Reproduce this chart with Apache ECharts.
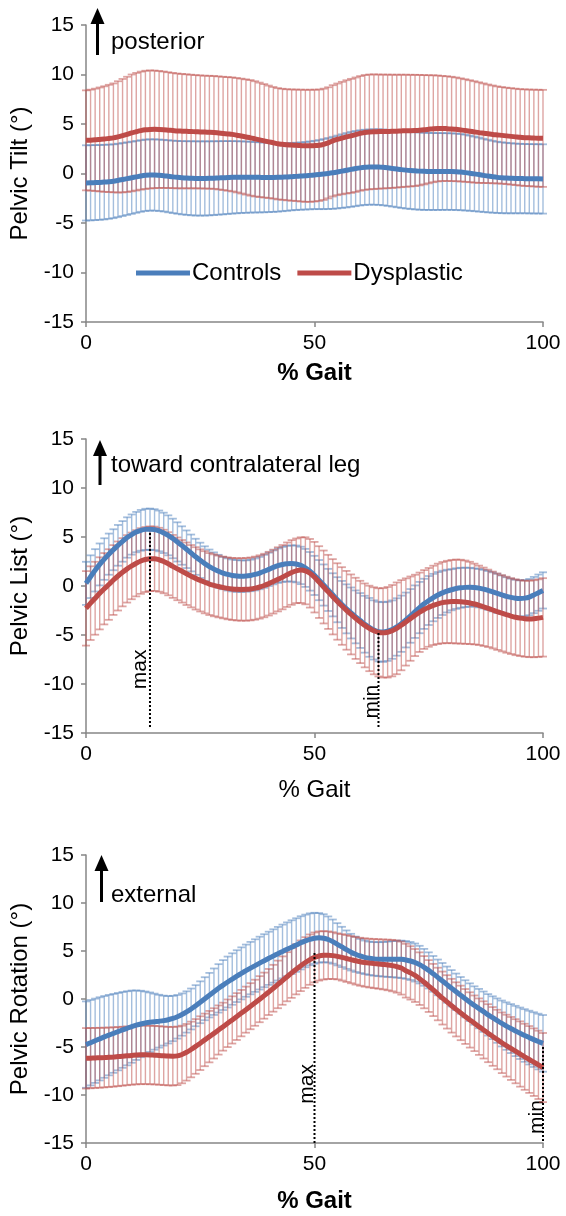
<!DOCTYPE html>
<html>
<head>
<meta charset="utf-8">
<script src="https://cdn.jsdelivr.net/npm/echarts@6/dist/echarts.min.js"></script>
<style>html,body{margin:0;padding:0;background:#fff;}#c{width:566px;height:1216px;}</style>
</head>
<body>
<div id="c"></div>
<script>
// % gait cycle (0..100 in 1% steps)
const gaitPct = Array.from({length: 101}, (_, i) => i);
const xTicks = [0, 50, 100];
const yTicks = [-15, -10, -5, 0, 5, 10, 15];

// ---- Pelvic Tilt ----
const tiltCtrlMean = [-0.95,-0.94,-0.92,-0.90,-0.87,-0.83,-0.78,-0.70,-0.61,-0.52,
-0.43,-0.34,-0.25,-0.18,-0.15,-0.15,-0.18,-0.22,-0.28,-0.34,
-0.39,-0.43,-0.46,-0.48,-0.50,-0.50,-0.50,-0.49,-0.47,-0.45,
-0.43,-0.41,-0.39,-0.38,-0.37,-0.37,-0.37,-0.38,-0.39,-0.40,
-0.40,-0.40,-0.39,-0.37,-0.35,-0.32,-0.29,-0.26,-0.23,-0.19,
-0.15,-0.11,-0.06,0.00,0.07,0.15,0.24,0.33,0.42,0.50,
0.57,0.62,0.65,0.66,0.65,0.62,0.57,0.51,0.45,0.39,
0.34,0.30,0.27,0.24,0.22,0.21,0.20,0.20,0.20,0.20,
0.19,0.17,0.14,0.09,0.03,-0.04,-0.11,-0.19,-0.26,-0.33,
-0.39,-0.43,-0.46,-0.48,-0.50,-0.51,-0.52,-0.53,-0.54,-0.54,-0.55];
const tiltCtrlSD = [3.80,3.80,3.79,3.78,3.77,3.75,3.73,3.71,3.69,3.67,
3.65,3.63,3.62,3.61,3.60,3.60,3.61,3.62,3.64,3.66,
3.68,3.70,3.72,3.74,3.75,3.75,3.75,3.74,3.73,3.71,
3.70,3.68,3.66,3.64,3.62,3.60,3.58,3.56,3.54,3.52,
3.50,3.48,3.46,3.44,3.42,3.40,3.40,3.40,3.41,3.43,
3.45,3.49,3.54,3.59,3.64,3.68,3.72,3.76,3.79,3.80,
3.80,3.80,3.80,3.81,3.82,3.83,3.84,3.85,3.86,3.87,
3.88,3.89,3.90,3.90,3.90,3.89,3.89,3.88,3.88,3.87,
3.87,3.86,3.85,3.83,3.80,3.77,3.74,3.70,3.67,3.63,
3.60,3.58,3.56,3.54,3.52,3.51,3.50,3.50,3.50,3.50,3.50];
const tiltDysMean = [3.35,3.37,3.40,3.44,3.48,3.54,3.60,3.70,3.82,3.95,
4.10,4.22,4.33,4.41,4.45,4.46,4.45,4.42,4.38,4.34,
4.30,4.28,4.26,4.24,4.22,4.20,4.18,4.17,4.15,4.10,
4.05,4.00,3.95,3.87,3.78,3.69,3.60,3.50,3.40,3.30,
3.20,3.10,3.00,2.95,2.90,2.87,2.85,2.82,2.80,2.80,
2.82,2.85,2.95,3.10,3.30,3.45,3.58,3.70,3.80,3.92,
4.05,4.15,4.20,4.22,4.23,4.24,4.25,4.26,4.28,4.30,
4.32,4.33,4.35,4.38,4.42,4.47,4.52,4.55,4.55,4.53,
4.50,4.46,4.40,4.34,4.27,4.20,4.13,4.07,4.01,3.95,
3.90,3.85,3.80,3.75,3.70,3.65,3.62,3.60,3.58,3.56,3.55];
const tiltDysSD = [5.05,5.10,5.17,5.25,5.33,5.42,5.50,5.62,5.73,5.82,
5.90,5.94,5.96,5.97,5.96,5.94,5.91,5.88,5.85,5.82,
5.80,5.78,5.76,5.74,5.72,5.71,5.70,5.70,5.70,5.71,
5.72,5.74,5.76,5.78,5.80,5.82,5.84,5.82,5.78,5.73,
5.68,5.64,5.62,5.61,5.61,5.62,5.63,5.65,5.66,5.66,
5.65,5.63,5.62,5.61,5.62,5.64,5.68,5.72,5.76,5.78,
5.79,5.80,5.80,5.79,5.77,5.75,5.74,5.72,5.70,5.68,
5.66,5.64,5.62,5.58,5.52,5.46,5.40,5.35,5.31,5.29,
5.27,5.24,5.21,5.18,5.15,5.12,5.08,5.03,4.98,4.94,
4.90,4.88,4.87,4.87,4.87,4.87,4.88,4.88,4.89,4.90,4.90];

// ---- Pelvic List ----
const listCtrlMean = [0.27,0.95,1.60,2.20,2.75,3.25,3.70,4.15,4.55,4.95,
5.25,5.50,5.68,5.78,5.80,5.75,5.62,5.42,5.17,4.85,
4.50,4.13,3.75,3.37,2.98,2.62,2.28,1.98,1.72,1.50,
1.32,1.18,1.08,1.02,1.00,1.02,1.08,1.18,1.32,1.50,
1.70,1.90,2.07,2.20,2.28,2.30,2.25,2.10,1.85,1.50,
1.08,0.60,0.10,-0.40,-0.90,-1.40,-1.88,-2.33,-2.75,-3.15,
-3.52,-3.90,-4.22,-4.48,-4.65,-4.70,-4.62,-4.45,-4.18,-3.85,
-3.47,-3.05,-2.62,-2.20,-1.82,-1.48,-1.18,-0.92,-0.70,-0.52,
-0.38,-0.26,-0.18,-0.14,-0.12,-0.15,-0.22,-0.32,-0.45,-0.60,
-0.75,-0.90,-1.05,-1.16,-1.24,-1.27,-1.24,-1.13,-0.92,-0.68,-0.45];
const listCtrlSD = [2.20,2.18,2.16,2.14,2.12,2.10,2.09,2.08,2.07,2.06,
2.05,2.06,2.08,2.10,2.10,2.09,2.08,2.06,2.04,2.02,
2.00,1.96,1.92,1.88,1.84,1.80,1.77,1.74,1.71,1.68,
1.65,1.64,1.63,1.62,1.61,1.60,1.61,1.63,1.65,1.68,
1.70,1.73,1.76,1.79,1.82,1.85,1.88,1.91,1.94,1.97,
2.00,2.05,2.10,2.15,2.20,2.30,2.40,2.50,2.60,2.70,
2.80,2.90,3.00,3.02,3.04,3.05,3.02,2.98,2.93,2.87,
2.80,2.74,2.68,2.62,2.56,2.50,2.42,2.34,2.26,2.18,
2.10,2.07,2.04,2.01,1.98,1.95,1.96,1.97,1.98,1.99,
2.00,1.97,1.94,1.91,1.88,1.85,1.85,1.85,1.85,1.85,1.85];
const listDysMean = [-2.28,-1.75,-1.25,-0.75,-0.28,0.15,0.61,1.02,1.40,1.75,
2.05,2.32,2.55,2.70,2.78,2.78,2.68,2.50,2.27,2.00,
1.75,1.50,1.25,1.00,0.78,0.57,0.38,0.20,0.07,-0.05,
-0.15,-0.24,-0.30,-0.34,-0.35,-0.34,-0.30,-0.22,-0.10,0.05,
0.24,0.45,0.68,0.90,1.15,1.38,1.55,1.62,1.55,1.30,
0.90,0.40,-0.10,-0.60,-1.10,-1.58,-2.04,-2.48,-2.90,-3.30,
-3.67,-4.02,-4.33,-4.57,-4.73,-4.78,-4.72,-4.56,-4.32,-4.00,
-3.67,-3.33,-3.00,-2.68,-2.40,-2.18,-1.98,-1.82,-1.70,-1.63,
-1.59,-1.58,-1.60,-1.65,-1.73,-1.84,-1.97,-2.12,-2.28,-2.45,
-2.62,-2.78,-2.93,-3.07,-3.19,-3.28,-3.34,-3.36,-3.34,-3.28,-3.20];
const listDysSD = [3.80,3.76,3.72,3.68,3.64,3.60,3.56,3.52,3.48,3.44,
3.40,3.38,3.35,3.32,3.30,3.28,3.26,3.24,3.22,3.21,
3.20,3.19,3.19,3.18,3.18,3.17,3.17,3.16,3.16,3.15,
3.15,3.16,3.17,3.18,3.19,3.20,3.21,3.22,3.23,3.24,
3.25,3.26,3.27,3.28,3.29,3.30,3.30,3.35,3.42,3.50,
3.60,3.66,3.72,3.78,3.84,3.90,3.96,4.02,4.08,4.14,
4.20,4.28,4.36,4.44,4.50,4.56,4.62,4.66,4.68,4.60,
4.45,4.30,4.15,4.05,4.02,4.02,4.05,4.10,4.15,4.20,
4.25,4.28,4.28,4.25,4.20,4.12,4.05,4.00,3.95,3.92,
3.90,3.89,3.88,3.87,3.87,3.87,3.88,3.90,3.93,3.96,4.00];

// ---- Pelvic Rotation ----
const rotCtrlMean = [-4.75,-4.55,-4.35,-4.15,-3.95,-3.76,-3.58,-3.40,-3.22,-3.05,
-2.88,-2.73,-2.60,-2.50,-2.42,-2.36,-2.31,-2.25,-2.16,-2.03,
-1.85,-1.62,-1.35,-1.04,-0.70,-0.34,0.03,0.40,0.76,1.11,
1.45,1.77,2.08,2.38,2.67,2.95,3.22,3.48,3.74,3.99,
4.24,4.48,4.72,4.95,5.18,5.40,5.62,5.85,6.05,6.22,
6.33,6.37,6.33,6.20,5.98,5.70,5.42,5.14,4.88,4.66,
4.48,4.34,4.24,4.18,4.15,4.14,4.14,4.15,4.15,4.13,
4.07,3.96,3.80,3.58,3.30,2.98,2.62,2.25,1.88,1.50,
1.12,0.75,0.38,0.02,-0.33,-0.68,-1.00,-1.32,-1.65,-1.95,
-2.25,-2.55,-2.82,-3.08,-3.33,-3.57,-3.80,-4.02,-4.23,-4.43,-4.62];
const rotCtrlSD = [4.50,4.45,4.39,4.33,4.26,4.19,4.11,4.03,3.95,3.86,
3.76,3.62,3.46,3.28,3.10,2.92,2.75,2.60,2.47,2.36,
2.27,2.20,2.15,2.13,2.14,2.18,2.24,2.32,2.42,2.52,
2.60,2.65,2.68,2.70,2.71,2.72,2.73,2.74,2.75,2.76,
2.77,2.78,2.79,2.80,2.80,2.80,2.79,2.77,2.74,2.70,
2.65,2.58,2.50,2.40,2.30,2.20,2.10,2.00,1.91,1.84,
1.78,1.75,1.74,1.75,1.77,1.80,1.84,1.88,1.92,1.95,
1.97,1.98,1.98,1.96,1.92,1.88,1.86,1.86,1.87,1.88,
1.89,1.90,1.91,1.93,1.96,2.00,2.05,2.10,2.16,2.23,
2.31,2.39,2.47,2.55,2.62,2.68,2.74,2.80,2.85,2.90,2.95];
const rotDysMean = [-6.18,-6.16,-6.14,-6.12,-6.10,-6.07,-6.04,-6.00,-5.96,-5.92,
-5.88,-5.84,-5.82,-5.82,-5.83,-5.85,-5.88,-5.92,-5.95,-5.96,
-5.92,-5.78,-5.55,-5.26,-4.94,-4.60,-4.26,-3.92,-3.58,-3.23,
-2.88,-2.53,-2.18,-1.83,-1.47,-1.11,-0.75,-0.39,-0.02,0.35,
0.73,1.12,1.52,1.92,2.32,2.72,3.10,3.46,3.80,4.10,
4.33,4.48,4.55,4.56,4.52,4.44,4.34,4.22,4.10,3.98,
3.88,3.80,3.74,3.69,3.65,3.60,3.55,3.48,3.38,3.22,
2.95,2.72,2.45,2.12,1.75,1.35,0.94,0.52,0.10,-0.30,
-0.70,-1.08,-1.45,-1.82,-2.18,-2.53,-2.88,-3.22,-3.56,-3.90,
-4.22,-4.56,-4.86,-5.15,-5.44,-5.73,-6.02,-6.30,-6.58,-6.86,-7.14];
const rotDysSD = [3.15,3.14,3.13,3.12,3.11,3.10,3.09,3.08,3.07,3.06,
3.05,3.05,3.05,3.05,3.05,3.05,3.05,3.05,3.05,3.05,
3.05,3.00,2.95,2.90,2.85,2.80,2.74,2.68,2.62,2.56,
2.50,2.48,2.46,2.44,2.42,2.40,2.40,2.40,2.40,2.40,
2.40,2.44,2.48,2.52,2.56,2.60,2.62,2.64,2.64,2.62,
2.60,2.56,2.52,2.48,2.44,2.40,2.42,2.44,2.46,2.48,
2.50,2.52,2.54,2.56,2.58,2.60,2.64,2.68,2.72,2.76,
2.80,2.78,2.76,2.74,2.72,2.70,2.72,2.74,2.76,2.78,
2.80,2.82,2.84,2.86,2.88,2.90,2.94,2.98,3.02,3.06,
3.10,3.16,3.22,3.28,3.34,3.40,3.44,3.48,3.52,3.56,3.60];

// max / min marker lines: [x, top, bottom] and label [x, y]
const listMarkers = [{name: 'max', line: [14, 5.4, -14.4], label: [11.8, -8.5]},
                     {name: 'min', line: [64, -4.8, -14.4], label: [62.7, -11.8]}];
const rotMarkers = [{name: 'max', line: [50, 4.8, -15], label: [48.4, -8.85]},
                    {name: 'min', line: [100, -5.0, -15], label: [98.8, -12.3]}];

const panels = [
  {yName: 'Pelvic Tilt (°)', xBold: true, ctrl: [tiltCtrlMean, tiltCtrlSD], dys: [tiltDysMean, tiltDysSD], markers: [], top: 25, height: 297, xNameGap: 39},
  {yName: 'Pelvic List (°)', xBold: false, ctrl: [listCtrlMean, listCtrlSD], dys: [listDysMean, listDysSD], markers: listMarkers, top: 439, height: 294, xNameGap: 45},
  {yName: 'Pelvic Rotation (°)', xBold: true, ctrl: [rotCtrlMean, rotCtrlSD], dys: [rotDysMean, rotDysSD], markers: rotMarkers, top: 855, height: 288, xNameGap: 46}
];

const BLUE = '#4A7EBB', RED = '#BE4B48';
const BLUE_EB = 'rgba(74,126,187,0.5)', RED_EB = 'rgba(190,75,72,0.5)';
const FONT = '"Liberation Sans", Arial, sans-serif';

function errRender(color) {
  return function (params, api) {
    const x = api.value(0), lo = api.value(1), hi = api.value(2);
    const a = api.coord([x, hi]), b = api.coord([x, lo]);
    const cap = 4;
    return {type: 'group', children: [
      {type: 'line', shape: {x1: a[0], y1: a[1], x2: b[0], y2: b[1]}, style: {stroke: color, lineWidth: 1.4}},
      {type: 'line', shape: {x1: a[0] - cap, y1: a[1], x2: a[0] + cap, y2: a[1]}, style: {stroke: color, lineWidth: 1.8}},
      {type: 'line', shape: {x1: b[0] - cap, y1: b[1], x2: b[0] + cap, y2: b[1]}, style: {stroke: color, lineWidth: 1.8}}
    ]};
  };
}

const grids = [], xAxes = [], yAxes = [], series = [];
panels.forEach((p, k) => {
  grids.push({left: 86, right: 23, top: p.top, height: p.height});
  xAxes.push({
    type: 'value', gridIndex: k, min: xTicks[0], max: xTicks[xTicks.length - 1], interval: 50,
    name: '% Gait', nameLocation: 'middle', nameGap: p.xNameGap,
    nameTextStyle: {fontSize: 24, fontWeight: p.xBold ? 'bold' : 'normal', color: '#000', fontFamily: FONT},
    axisLine: {onZero: false, lineStyle: {color: '#868686', width: 1.5}},
    axisTick: {length: 5, lineStyle: {color: '#868686', width: 1.5}},
    axisLabel: {fontSize: 21, color: '#000', margin: 11, fontFamily: FONT},
    splitLine: {show: false}
  });
  yAxes.push({
    type: 'value', gridIndex: k, min: yTicks[0], max: yTicks[yTicks.length - 1], interval: 5,
    name: p.yName, nameLocation: 'middle', nameRotate: 90, nameGap: 41,
    nameTextStyle: {fontSize: 24, color: '#000', fontFamily: FONT},
    axisLine: {show: true, lineStyle: {color: '#868686', width: 1.5}},
    axisTick: {show: true, length: 5, lineStyle: {color: '#868686', width: 1.5}},
    axisLabel: {fontSize: 21, color: '#000', margin: 12, fontFamily: FONT},
    splitLine: {show: false}
  });
  const groups = [['Controls', p.ctrl, BLUE, BLUE_EB], ['Dysplastic', p.dys, RED, RED_EB]];
  groups.forEach(g => {
    const [m, s] = g[1];
    series.push({
      name: g[0] + ' SD', type: 'custom', xAxisIndex: k, yAxisIndex: k, z: 2,
      renderItem: errRender(g[3]), silent: true,
      data: gaitPct.map((x, i) => [x, m[i] - s[i], m[i] + s[i]]),
      encode: {x: 0, y: [1, 2]}
    });
  });
  groups.forEach(g => {
    const m = g[1][0];
    series.push({
      name: g[0], type: 'line', xAxisIndex: k, yAxisIndex: k, z: 5,
      showSymbol: false, symbol: 'none', smooth: 0.3,
      lineStyle: {color: g[2], width: 5},
      itemStyle: {color: g[2]},
      data: gaitPct.map((x, i) => [x, m[i]])
    });
  });
  p.markers.forEach(mk => {
    series.push({
      name: mk.name + ' line', type: 'line', xAxisIndex: k, yAxisIndex: k, z: 6, symbol: 'none',
      lineStyle: {color: '#000', width: 2, type: [2, 2]},
      data: [[mk.line[0], mk.line[1]], [mk.line[0], mk.line[2]]]
    });
  });
});

function arrow(x, tipY, bottomY, text, textY) {
  return [
    {type: 'rect', shape: {x: x - 1.5, y: tipY + 12, width: 3, height: bottomY - tipY - 12}, style: {fill: '#000'}},
    {type: 'polygon', shape: {points: [[x, tipY], [x - 7, tipY + 16], [x + 7, tipY + 16]]}, style: {fill: '#000'}},
    {type: 'text', x: 111, y: textY, style: {text: text, fontSize: 24, fill: '#000', fontFamily: FONT, verticalAlign: 'middle'}}
  ];
}

const baseGraphic = [].concat(
  arrow(97.5, 8, 55, 'posterior', 42),
  arrow(100, 440, 485, 'toward contralateral leg', 465),
  arrow(101.5, 855, 902, 'external', 895)
);

const option = {
  animation: false,
  backgroundColor: '#fff',
  textStyle: {fontFamily: FONT},
  grid: grids, xAxis: xAxes, yAxis: yAxes, series: series,
  legend: {
    data: ['Controls', 'Dysplastic'], left: 131, top: 256, icon: 'rect',
    itemWidth: 54, itemHeight: 5, itemGap: 16,
    textStyle: {fontSize: 24, color: '#000', fontFamily: FONT, padding: [0, 0, 0, -3]}
  },
  graphic: baseGraphic
};

const chart = echarts.init(document.getElementById('c'), null, {renderer: 'canvas'});
chart.setOption(option);

// max/min labels, placed through the grid's own coordinate conversion
const labelGraphic = [];
panels.forEach((p, k) => {
  p.markers.forEach(mk => {
    const pt = chart.convertToPixel({gridIndex: k}, mk.label);
    labelGraphic.push({
      type: 'text', x: pt[0], y: pt[1], rotation: Math.PI / 2,
      style: {text: mk.name, fontSize: 21, fill: '#000', fontFamily: FONT, align: 'center', verticalAlign: 'middle'}
    });
  });
});
chart.setOption({graphic: baseGraphic.concat(labelGraphic)});
</script>
</body>
</html>
